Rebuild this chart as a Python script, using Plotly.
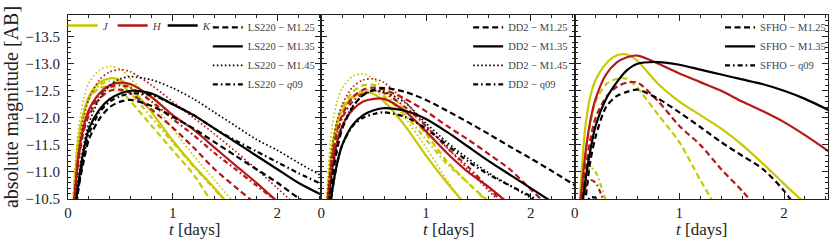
import plotly.graph_objects as go
from plotly.subplots import make_subplots

# ---------------- data ----------------
T = [0.05, 0.1, 0.15, 0.2, 0.3, 0.4, 0.5, 0.6, 0.8, 1.0, 1.2, 1.4, 1.6, 1.8, 2.0, 2.2, 2.45]
TQ = [0.05, 0.1, 0.15, 0.2, 0.25, 0.3, 0.35]

# LS220
LS220_J_M125 = [-10.4, -11.6, -12.1, -12.35, -12.55, -12.58, -12.5, -12.3, -11.85, -11.4, -10.95, -10.35, None, None, None, None, None]
LS220_J_M135 = [-10.4, -11.6, -12.1, -12.4, -12.65, -12.73, -12.7, -12.55, -12.1, -11.58, -11.12, -10.7, -10.25, None, None, None, None]
LS220_J_M145 = [-10.6, -11.8, -12.35, -12.65, -12.88, -12.95, -12.9, -12.72, -12.3, -11.8, -11.3, -10.85, -10.4, None, None, None, None]
LS220_J_q09 = [-10.4, -11.55, -12.05, -12.35, -12.6, -12.68, -12.62, -12.45, -12.0, -11.55, -11.1, -10.68, -10.25, None, None, None, None]
LS220_H_M125 = [-10.2, -11.2, -11.75, -12.05, -12.35, -12.5, -12.52, -12.45, -12.15, -11.82, -11.45, -11.05, -10.72, -10.4, None, None, None]
LS220_H_M135 = [-10.2, -11.3, -11.85, -12.15, -12.45, -12.6, -12.65, -12.62, -12.38, -12.05, -11.78, -11.45, -11.12, -10.8, -10.45, -10.1, None]
LS220_H_M145 = [-10.3, -11.4, -12.0, -12.35, -12.7, -12.85, -12.89, -12.85, -12.6, -12.3, -12.0, -11.7, -11.38, -11.05, -10.7, -10.35, None]
LS220_H_q09 = [-10.2, -11.25, -11.8, -12.1, -12.42, -12.57, -12.6, -12.56, -12.3, -11.98, -11.68, -11.35, -11.05, -10.75, -10.45, -10.15, None]
LS220_K_M125 = [-9.9, -10.7, -11.2, -11.6, -11.98, -12.2, -12.3, -12.33, -12.22, -12.02, -11.8, -11.55, -11.3, -11.05, -10.8, -10.52, -10.2]
LS220_K_M135 = [-10.0, -10.8, -11.4, -11.8, -12.15, -12.35, -12.45, -12.5, -12.45, -12.25, -12.05, -11.8, -11.55, -11.3, -11.05, -10.8, -10.55]
LS220_K_M145 = [-10.0, -10.9, -11.5, -11.9, -12.35, -12.6, -12.72, -12.76, -12.7, -12.55, -12.35, -12.1, -11.85, -11.6, -11.4, -11.17, -10.9]
LS220_K_q09 = [-9.9, -10.7, -11.3, -11.7, -12.1, -12.3, -12.4, -12.45, -12.42, -12.25, -12.05, -11.8, -11.58, -11.38, -11.18, -10.98, -10.75]

# DD2
DD2_J_M125 = [-10.3, -11.4, -11.9, -12.2, -12.48, -12.6, -12.61, -12.52, -12.15, -11.7, -11.2, -10.8, -10.45, None, None, None, None]
DD2_J_M135 = [-10.35, -11.4, -11.9, -12.15, -12.38, -12.46, -12.44, -12.3, -11.85, -11.3, -10.8, -10.35, None, None, None, None, None]
DD2_J_M145 = [-10.6, -11.8, -12.3, -12.55, -12.77, -12.81, -12.72, -12.5, -12.0, -11.45, -10.85, -10.3, None, None, None, None, None]
DD2_J_q09 = [-10.3, -11.35, -11.85, -12.12, -12.4, -12.5, -12.5, -12.4, -12.05, -11.6, -11.15, -10.8, -10.42, None, None, None, None]
DD2_H_M125 = [-10.2, -11.2, -11.75, -12.05, -12.38, -12.52, -12.56, -12.52, -12.35, -12.12, -11.85, -11.6, -11.33, -11.05, -10.68, -10.3, None]
DD2_H_M135 = [-10.1, -11.0, -11.55, -11.85, -12.15, -12.3, -12.35, -12.35, -12.12, -11.75, -11.35, -11.0, -10.72, -10.4, None, None, None]
DD2_H_M145 = [-10.3, -11.4, -11.95, -12.25, -12.57, -12.7, -12.72, -12.65, -12.3, -11.85, -11.45, -11.05, -10.65, -10.25, None, None, None]
DD2_H_q09 = [-10.2, -11.2, -11.7, -12.0, -12.3, -12.45, -12.5, -12.46, -12.2, -11.85, -11.45, -11.1, -10.7, -10.3, None, None, None]
DD2_K_M125 = [-9.9, -10.8, -11.4, -11.8, -12.2, -12.42, -12.52, -12.55, -12.48, -12.33, -12.13, -11.92, -11.7, -11.47, -11.25, -11.02, -10.72]
DD2_K_M135 = [-9.8, -10.6, -11.15, -11.5, -11.87, -12.05, -12.14, -12.18, -12.13, -11.98, -11.74, -11.47, -11.2, -10.95, -10.7, -10.45, None]
DD2_K_M145 = [-10.0, -10.95, -11.5, -11.85, -12.22, -12.42, -12.5, -12.48, -12.28, -11.9, -11.55, -11.25, -10.98, -10.75, -10.52, -10.3, None]
DD2_K_q09 = [-9.8, -10.6, -11.15, -11.5, -11.85, -12.0, -12.07, -12.1, -12.02, -11.8, -11.5, -11.2, -10.95, -10.75, -10.55, -10.3, None]

# SFHO
SFHO_J_M125 = [-10.2, -11.3, -11.9, -12.3, -12.62, -12.72, -12.72, -12.55, -12.05, -11.55, -10.85, -10.2, None, None, None, None, None]
SFHO_J_M135 = [-10.5, -11.8, -12.4, -12.7, -13.0, -13.15, -13.17, -13.05, -12.62, -12.3, -12.05, -11.8, -11.5, -11.15, -10.78, -10.42, None]
SFHO_H_M125 = [-10.0, -11.0, -11.6, -12.0, -12.38, -12.57, -12.65, -12.65, -12.3, -11.85, -11.5, -11.05, -10.65, -10.2, None, None, None]
SFHO_H_M135 = [-10.3, -11.3, -11.95, -12.35, -12.8, -13.02, -13.12, -13.15, -13.0, -12.82, -12.66, -12.5, -12.3, -12.12, -11.92, -11.68, -11.35]
SFHO_K_M125 = [-9.7, -10.45, -11.2, -11.65, -12.2, -12.4, -12.48, -12.52, -12.35, -12.1, -11.83, -11.55, -11.3, -11.05, -10.65, -10.1, None]
SFHO_K_M135 = [-10.0, -10.8, -11.4, -11.85, -12.35, -12.65, -12.88, -13.0, -13.03, -12.98, -12.89, -12.8, -12.71, -12.62, -12.5, -12.35, -12.12]
SFHO_J_q09 = [-10.3, -10.9, -11.08, -11.0, -10.75, -10.45, -10.1]
SFHO_H_q09 = [-10.2, -10.7, -10.85, -10.8, -10.6, -10.35, -10.0]
SFHO_K_q09 = [-9.9, -10.35, -10.53, -10.52, -10.35, -10.1, -9.8]

BANDS = ["J", "H", "K"]
X_TICKS = [0, 1, 2]
Y_TICKS = [-13.5, -13.0, -12.5, -12.0, -11.5, -11.0, -10.5]
X_TITLE = "<i>t</i> [days]"
Y_TITLE = "absolute magnitude [AB]"

panels = [
    ("LS220", {
        ("J", "M1.25"): (T, LS220_J_M125), ("J", "M1.35"): (T, LS220_J_M135),
        ("J", "M1.45"): (T, LS220_J_M145), ("J", "q09"): (T, LS220_J_q09),
        ("H", "M1.25"): (T, LS220_H_M125), ("H", "M1.35"): (T, LS220_H_M135),
        ("H", "M1.45"): (T, LS220_H_M145), ("H", "q09"): (T, LS220_H_q09),
        ("K", "M1.25"): (T, LS220_K_M125), ("K", "M1.35"): (T, LS220_K_M135),
        ("K", "M1.45"): (T, LS220_K_M145), ("K", "q09"): (T, LS220_K_q09),
    }, ["M1.25", "M1.35", "M1.45", "q09"]),
    ("DD2", {
        ("J", "M1.25"): (T, DD2_J_M125), ("J", "M1.35"): (T, DD2_J_M135),
        ("J", "M1.45"): (T, DD2_J_M145), ("J", "q09"): (T, DD2_J_q09),
        ("H", "M1.25"): (T, DD2_H_M125), ("H", "M1.35"): (T, DD2_H_M135),
        ("H", "M1.45"): (T, DD2_H_M145), ("H", "q09"): (T, DD2_H_q09),
        ("K", "M1.25"): (T, DD2_K_M125), ("K", "M1.35"): (T, DD2_K_M135),
        ("K", "M1.45"): (T, DD2_K_M145), ("K", "q09"): (T, DD2_K_q09),
    }, ["M1.25", "M1.35", "M1.45", "q09"]),
    ("SFHO", {
        ("J", "M1.25"): (T, SFHO_J_M125), ("J", "M1.35"): (T, SFHO_J_M135),
        ("J", "q09"): (TQ, SFHO_J_q09),
        ("H", "M1.25"): (T, SFHO_H_M125), ("H", "M1.35"): (T, SFHO_H_M135),
        ("H", "q09"): (TQ, SFHO_H_q09),
        ("K", "M1.25"): (T, SFHO_K_M125), ("K", "M1.35"): (T, SFHO_K_M135),
        ("K", "q09"): (TQ, SFHO_K_q09),
    }, ["M1.25", "M1.35", "q09"]),
]

# ---------------- styles ----------------
SERIF = "Liberation Serif"
INK = "#222222"
COLORS = {"J": "#c8c800", "H": "#b41818", "K": "#000000"}
DASH = {"M1.25": "6px,3.5px", "M1.35": "solid", "M1.45": "1.6px,2.4px", "q09": "5px,3px,1.6px,3px"}
WIDTH = {"M1.25": 2.2, "M1.35": 2.2, "M1.45": 1.7, "q09": 2.2}

fig = make_subplots(rows=1, cols=3, shared_yaxes=True, horizontal_spacing=0)

for i, (eos, curves, models) in enumerate(panels):
    col = i + 1
    for band in BANDS:
        for model in models:
            if (band, model) not in curves:
                continue
            t, m = curves[(band, model)]
            fig.add_trace(go.Scatter(
                x=t, y=m, mode="lines", showlegend=False,
                line=dict(color=COLORS[band], width=WIDTH[model], dash=DASH[model],
                          shape="spline", smoothing=0.8),
                connectgaps=False, hoverinfo="skip",
            ), row=1, col=col)
    leg = "legend" + str(i + 2)
    for model in models:
        if model == "q09" and eos == "LS220":
            label = f"{eos} − <i>q</i>09"
        else:
            label = f"{eos} − {model}"
        fig.add_trace(go.Scatter(
            x=[None], y=[None], mode="lines", name=label,
            line=dict(color="black", width=WIDTH[model], dash=DASH[model]),
            legend=leg, showlegend=True,
        ), row=1, col=col)

for band in BANDS:
    fig.add_trace(go.Scatter(
        x=[None], y=[None], mode="lines", name=f"<i>{band}</i>",
        line=dict(color=COLORS[band], width=2.5), legend="legend", showlegend=True,
    ), row=1, col=1)

axis_common = dict(
    showline=True, linecolor=INK, linewidth=1, mirror="ticks",
    ticks="inside", ticklen=6, tickwidth=1, tickcolor=INK,
    showgrid=False, zeroline=False, automargin=False,
    tickfont=dict(family=SERIF, size=15, color=INK),
)

xdomains = ["x domain", "x2 domain", "x3 domain"]
for i in range(3):
    fig.update_xaxes(
        range=[0, 2.42], tickvals=X_TICKS, ticktext=[str(v) for v in X_TICKS],
        minor=dict(ticks="inside", ticklen=3, dtick=0.2, tick0=0, tickcolor=INK),
        row=1, col=i + 1, **axis_common,
    )
    fig.update_yaxes(
        range=[-10.5, -13.9], tickvals=Y_TICKS, ticktext=[f"−{abs(v):.1f}" for v in Y_TICKS],
        minor=dict(ticks="inside", ticklen=3, dtick=0.1, tick0=0, tickcolor=INK),
        showticklabels=(i == 0), ticklabelstandoff=4,
        row=1, col=i + 1, **axis_common,
    )
    # x-axis title of each panel, placed just under the tick labels
    fig.add_annotation(text=X_TITLE, xref=xdomains[i], yref="paper", x=0.5, y=-0.165,
                       xanchor="center", yanchor="middle", showarrow=False,
                       font=dict(family=SERIF, size=17, color=INK))

fig.update_yaxes(title=dict(text=Y_TITLE, font=dict(family=SERIF, size=20, color=INK), standoff=5), row=1, col=1)

leg_font = dict(family=SERIF, size=10.5, color="#444444")
fig.update_layout(
    width=831, height=244,
    margin=dict(l=68, r=3, t=15, b=45, autoexpand=False),
    paper_bgcolor="white", plot_bgcolor="white",
    font=dict(family=SERIF, color=INK),
    legend=dict(x=-0.007, y=1.022, xanchor="left", yanchor="top", orientation="h",
                font=dict(family=SERIF, size=11, color="#444444"), bgcolor="rgba(0,0,0,0)",
                entrywidth=5, entrywidthmode="pixels"),
    legend2=dict(x=1 / 3 - 0.002, y=1.012, xanchor="right", yanchor="top", font=leg_font, bgcolor="rgba(0,0,0,0)"),
    legend3=dict(x=2 / 3 - 0.002, y=1.012, xanchor="right", yanchor="top", font=leg_font, bgcolor="rgba(0,0,0,0)"),
    legend4=dict(x=1.004, y=1.012, xanchor="right", yanchor="top", font=leg_font, bgcolor="rgba(0,0,0,0)"),
)

fig.write_html("out.html", config={"displayModeBar": False},
               post_script="document.body.style.margin='0';")
